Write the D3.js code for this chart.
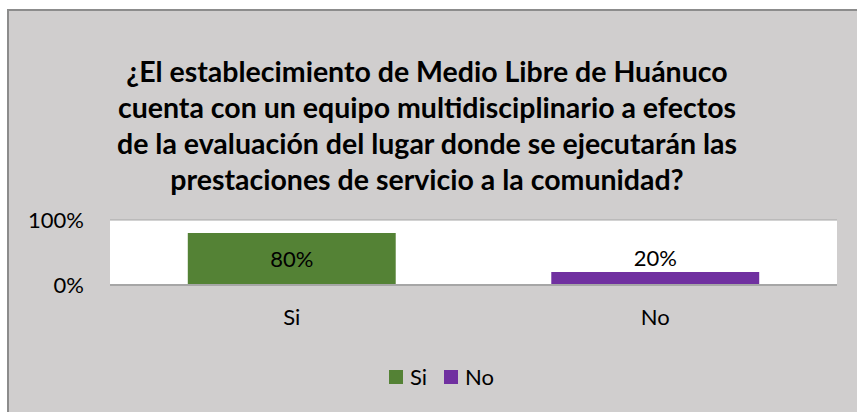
<!DOCTYPE html>
<html>
<head>
<meta charset="utf-8">
<script src="https://cdn.jsdelivr.net/npm/d3@7"></script>
<style>
  body { margin: 0; background: #fff; }
  svg { display: block; font-family: Lato, "Open Sans", sans-serif; }
</style>
</head>
<body>
<div id="chartArea"></div>
<script>
// Data
const categories = ["Si", "No"];
const values = [0.8, 0.2];
const colors = ["#548235", "#7030a0"];
const yTicks = [0, 1];
const titleLines = [
    "¿El establecimiento de Medio Libre de Huánuco",
    "cuenta con un equipo multidisciplinario a efectos",
    "de la evaluación del lugar donde se ejecutarán las",
    "prestaciones de servicio a la comunidad?"
];

// Dimensions
const width = 857,
    height = 412,
    plot = { left: 110, right: 837, top: 220, bottom: 285 },
    fontSize = 22;

const svg = d3.select("#chartArea")
    .append("svg")
    .attr("width", width)
    .attr("height", height);

// Chart background + frame
svg.append("rect")
    .attr("x", 8).attr("y", 10)
    .attr("width", width - 8).attr("height", height - 10)
    .attr("fill", "#d0cece");
svg.append("path")
    .attr("d", `M8,${height} V10 H${width}`)
    .attr("fill", "none")
    .attr("stroke", "#8c8c8c")
    .attr("stroke-width", 2);

// Title
svg.append("g")
    .selectAll("text")
    .data(titleLines)
    .join("text")
    .attr("x", 427)
    .attr("y", (d, i) => 82 + i * 36)
    .attr("text-anchor", "middle")
    .attr("font-weight", "bold")
    .attr("font-size", 28.5)
    .attr("fill", "#000")
    .text(d => d);

// Scales
const x = d3.scaleBand()
    .domain(categories)
    .range([plot.left, plot.right])
    .paddingInner(0.428)
    .paddingOuter(0.214);

const y = d3.scaleLinear()
    .domain([0, 1])
    .range([plot.bottom, plot.top]);

// Plot area
svg.append("rect")
    .attr("x", plot.left).attr("y", plot.top)
    .attr("width", plot.right - plot.left)
    .attr("height", plot.bottom - plot.top)
    .attr("fill", "#fff");

// Gridline at 100%
svg.append("line")
    .attr("x1", plot.left).attr("x2", plot.right)
    .attr("y1", y(1)).attr("y2", y(1))
    .attr("stroke", "#a6a6a6").attr("stroke-width", 1);

// Bars
svg.append("g")
    .selectAll("rect")
    .data(categories)
    .join("rect")
    .attr("x", d => x(d))
    .attr("y", (d, i) => y(values[i]))
    .attr("width", x.bandwidth())
    .attr("height", (d, i) => y(0) - y(values[i]))
    .attr("fill", (d, i) => colors[i]);

// Axis baseline
svg.append("line")
    .attr("x1", plot.left).attr("x2", plot.right)
    .attr("y1", y(0)).attr("y2", y(0))
    .attr("stroke", "#a6a6a6").attr("stroke-width", 2);

// Data labels
svg.append("g")
    .selectAll("text")
    .data(categories)
    .join("text")
    .attr("x", d => x(d) + x.bandwidth() / 2)
    .attr("y", (d, i) => {
        const h = y(0) - y(values[i]);
        return h > 30 ? y(values[i]) + h / 2 + 8 : y(values[i]) - 6;
    })
    .attr("text-anchor", "middle")
    .attr("font-size", fontSize)
    .attr("fill", "#000")
    .text((d, i) => d3.format(".0%")(values[i]));

// Y axis labels
const yAxis = d3.axisLeft(y)
    .tickValues(yTicks)
    .tickFormat(d3.format(".0%"))
    .tickSize(0)
    .tickPadding(26);

svg.append("g")
    .attr("transform", `translate(${plot.left},0)`)
    .call(yAxis)
    .call(g => g.select(".domain").remove())
    .call(g => g.selectAll("text")
        .attr("font-family", "Lato, 'Open Sans', sans-serif")
        .attr("font-size", fontSize)
        .attr("fill", "#000"));

// X axis labels
const xAxis = d3.axisBottom(x).tickSize(0).tickPadding(24);
svg.append("g")
    .attr("transform", `translate(0,${plot.bottom})`)
    .call(xAxis)
    .call(g => g.select(".domain").remove())
    .call(g => g.selectAll("text")
        .attr("font-family", "Lato, 'Open Sans', sans-serif")
        .attr("font-size", fontSize)
        .attr("fill", "#000"));

// Legend
const legend = svg.append("g")
    .attr("transform", "translate(389,370)");

const items = legend.selectAll("g")
    .data(categories)
    .join("g")
    .attr("transform", (d, i) => `translate(${i * 55},0)`);

items.append("rect")
    .attr("width", 14)
    .attr("height", 14)
    .attr("fill", (d, i) => colors[i]);

items.append("text")
    .attr("x", 21)
    .attr("y", 15)
    .attr("font-size", fontSize)
    .attr("fill", "#000")
    .text(d => d);
</script>
</body>
</html>
